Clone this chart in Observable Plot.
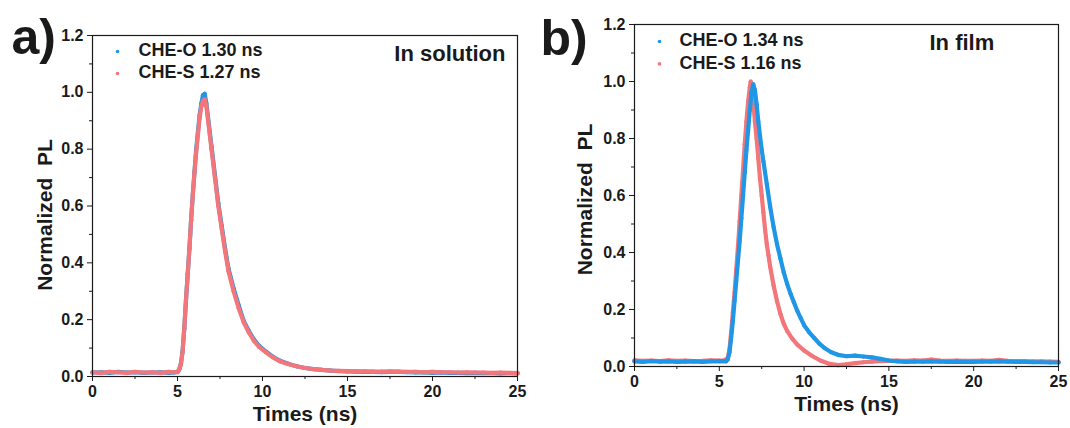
<!DOCTYPE html>
<html>
<head>
<meta charset="utf-8">
<script src="https://cdn.jsdelivr.net/npm/d3@7"></script>
<script src="https://cdn.jsdelivr.net/npm/@observablehq/plot@0.6"></script>
<style>
  html, body { margin: 0; padding: 0; background: #fff; }
  #wrap { display: flex; width: 1070px; height: 428px; }
  svg text { white-space: pre; }
</style>
</head>
<body>
<div id="wrap"></div>
<script>
// ---- tick labels ----
const xTicks = [0, 5, 10, 15, 20, 25];
const xMinor = [2.5, 7.5, 12.5, 17.5, 22.5];
const yTicks = [0, 0.2, 0.4, 0.6, 0.8, 1.0, 1.2];
const yMinor = [0.1, 0.3, 0.5, 0.7, 0.9, 1.1];

// ---- text ----
const xTitle = "Times (ns)";
const yTitle = "Normalized  PL";
const panelLabels = ["a)", "b)"];
const conditions = ["In solution", "In film"];
const legendA = ["CHE-O 1.30 ns", "CHE-S 1.27 ns"];
const legendB = ["CHE-O 1.34 ns", "CHE-S 1.16 ns"];

// ---- panel a (in solution) ----
const aTime = [0,0.5,1,1.5,2,2.5,3,3.5,4,4.5,4.8,
  5.0,5.1,5.2,5.3,5.4,5.5,5.6,5.7,5.8,5.9,6.0,6.1,6.2,6.3,6.4,6.5,6.6,6.7,6.8,6.9,7.0,
  7.2,7.4,7.6,7.8,8.0,
  8.3,8.6,8.9,9.2,9.5,9.8,
  10.2,10.6,11.0,
  11.5,12,12.5,13,13.5,14,14.5,15,15.5,16,16.5,17,17.5,18,18.5,19,19.5,20,20.5,21,21.5,22,22.5,23,23.5,24,24.5,25];
const aCheO = [0.014,0.015,0.013,0.016,0.014,0.015,0.013,0.014,0.015,0.013,0.014,
  0.016,0.025,0.045,0.09,0.17,0.27,0.36,0.45,0.55,0.64,0.72,0.80,0.86,0.92,0.96,0.99,0.995,0.96,0.91,0.86,0.81,
  0.71,0.61,0.53,0.45,0.38,
  0.31,0.25,0.195,0.16,0.13,0.108,
  0.088,0.07,0.056,
  0.045,0.036,0.03,0.026,0.023,0.021,0.019,0.018,0.017,0.016,0.016,0.015,0.016,0.016,0.015,0.014,0.014,0.013,0.014,0.013,0.013,0.012,0.013,0.012,0.012,0.011,0.012,0.011];
const aCheS = [0.015,0.013,0.016,0.015,0.013,0.016,0.014,0.015,0.013,0.016,0.015,
  0.015,0.024,0.043,0.088,0.17,0.27,0.36,0.45,0.55,0.64,0.72,0.79,0.85,0.91,0.95,0.97,0.975,0.95,0.90,0.85,0.80,
  0.70,0.60,0.52,0.44,0.37,
  0.30,0.24,0.19,0.155,0.125,0.104,
  0.085,0.068,0.054,
  0.044,0.036,0.03,0.026,0.023,0.021,0.02,0.019,0.018,0.018,0.017,0.017,0.018,0.017,0.016,0.016,0.015,0.016,0.015,0.015,0.014,0.015,0.014,0.014,0.013,0.014,0.013,0.012];

// ---- panel b (in film) ----
const bTimeO = [0,0.5,1,1.5,2,2.5,3,3.5,4,4.5,5,
  5.4,5.5,5.6,5.7,5.8,5.9,6.0,6.1,6.2,6.3,6.4,6.5,6.6,6.7,6.8,6.9,7.0,
  7.1,7.2,7.3,7.4,7.5,7.6,
  7.8,8.0,8.2,8.4,8.6,8.8,9.0,9.2,9.4,9.6,9.8,10.0,
  10.3,10.6,10.9,11.2,11.6,12.0,
  12.5,13,13.5,14,14.5,15,15.5,16,16.5,17,17.5,18,18.5,19,19.5,20,20.5,21,21.5,22,22.5,23,23.5,24,24.5,25];
const bCheO = [0.018,0.016,0.019,0.017,0.018,0.016,0.017,0.018,0.016,0.018,0.019,
  0.018,0.025,0.05,0.10,0.16,0.23,0.30,0.37,0.44,0.52,0.60,0.68,0.76,0.83,0.90,0.96,0.99,
  0.97,0.92,0.86,0.81,0.76,0.72,
  0.64,0.56,0.49,0.43,0.38,0.33,0.29,0.255,0.225,0.195,0.17,0.145,
  0.12,0.10,0.08,0.065,0.05,0.041,
  0.036,0.038,0.035,0.032,0.027,0.021,0.018,0.016,0.017,0.017,0.018,0.017,0.016,0.017,0.016,0.016,0.017,0.017,0.018,0.017,0.016,0.016,0.015,0.015,0.014,0.014];
const bTimeS = [0,0.5,1,1.5,2,2.5,3,3.5,4,4.5,5,
  5.3,5.5,5.6,5.7,5.8,5.9,6.0,6.1,6.2,6.3,6.4,6.5,6.6,6.7,6.8,6.85,6.9,7.0,
  7.1,7.2,7.3,7.4,7.5,7.6,7.7,7.8,7.9,8.0,
  8.2,8.4,8.6,8.8,9.0,9.3,9.6,10.0,10.5,11.0,11.5,12.0,
  12.5,13,13.5,14,14.5,15,15.5,16,16.5,17,17.5,18,18.5,19,19.5,20,20.5,21,21.5,22,22.5,23,23.5,24,24.5,25];
const bCheS = [0.022,0.02,0.021,0.019,0.022,0.02,0.021,0.019,0.02,0.022,0.021,
  0.022,0.03,0.06,0.12,0.19,0.26,0.34,0.42,0.51,0.60,0.69,0.78,0.86,0.93,0.98,1.0,0.98,0.93,
  0.86,0.80,0.73,0.66,0.60,0.54,0.48,0.43,0.39,0.35,
  0.285,0.23,0.185,0.15,0.125,0.098,0.077,0.056,0.036,0.02,0.009,0.005,
  0.008,0.012,0.015,0.017,0.019,0.02,0.021,0.02,0.022,0.021,0.024,0.021,0.02,0.021,0.02,0.02,0.021,0.02,0.023,0.02,0.019,0.019,0.018,0.018,0.017,0.016];

const blue = "#1f97e6";
const red = "#f2767a";
const ink = "#1a1a1a";

const rows = (ts, vs) => ts.map((t, i) => ({t, v: vs[i]}));

function series(data, color) {
  return [
    Plot.line(data, {x: "t", y: "v", stroke: color, strokeWidth: 4.2}),
    Plot.dot(data, {x: "t", y: "v", r: 2.1, fill: color, stroke: "none"})
  ];
}

function panel(o) {
  const fs = {fontFamily: "'Liberation Sans', Arial, sans-serif", fontWeight: "bold", lineAnchor: "middle", fill: ink};
  return Plot.plot({
    width: 535, height: 428,
    marginLeft: o.ml, marginRight: o.mr, marginTop: o.mt, marginBottom: o.mb,
    x: {domain: [0, 25]},
    y: {domain: [0, 1.2]},
    style: {fontFamily: "'Liberation Sans', Arial, sans-serif", fontWeight: "bold", fontSize: "16px", color: ink, background: "white", overflow: "visible"},
    marks: [
      ...o.layers,
      Plot.frame({stroke: ink, strokeWidth: 1.2}),
      Plot.axisX(xTicks, {tickSize: 5, tickPadding: 4, label: null, fontSize: 16}),
      Plot.axisX(xMinor, {tickSize: 3, tickFormat: () => "", label: null}),
      Plot.axisY(yTicks, {tickSize: 5, tickPadding: 4, tickFormat: d3.format(".1f"), label: null, fontSize: 16}),
      Plot.axisY(yMinor, {tickSize: 3, tickFormat: () => "", label: null}),
      // axis titles
      Plot.text([xTitle], {text: d => d, frameAnchor: "bottom", textAnchor: "middle", dy: o.xTitleDy, fontSize: 21, ...fs}),
      Plot.text([yTitle], {text: d => d, frameAnchor: "left", textAnchor: "middle", dx: o.yTitleDx, dy: o.yTitleDy, rotate: -90, fontSize: 21, ...fs}),
      // panel label
      Plot.text([o.tag], {text: d => d, frameAnchor: "top-left", textAnchor: "start", dx: o.tagDx, dy: o.tagDy, fontSize: 50, ...fs}),
      // condition
      Plot.text([o.cond], {text: d => d, frameAnchor: o.condAnchor, textAnchor: o.condTextAnchor, dx: o.condDx, dy: o.condDy, fontSize: 22, ...fs}),
      // legend
      Plot.dot([0], {frameAnchor: "top-left", dx: o.legDotDx, dy: o.legDy[0] + 1, r: 1.8, fill: blue}),
      Plot.dot([0], {frameAnchor: "top-left", dx: o.legDotDx, dy: o.legDy[1] + 1, r: 1.8, fill: red}),
      Plot.text([o.legend[0]], {text: d => d, frameAnchor: "top-left", textAnchor: "start", dx: o.legTextDx, dy: o.legDy[0], fontSize: 18, ...fs}),
      Plot.text([o.legend[1]], {text: d => d, frameAnchor: "top-left", textAnchor: "start", dx: o.legTextDx, dy: o.legDy[1], fontSize: 18, ...fs})
    ]
  });
}

const wrap = document.getElementById("wrap");

wrap.append(panel({
  ml: 92, mr: 18, mt: 35, mb: 52,
  layers: [...series(rows(aTime, aCheO), blue), ...series(rows(aTime, aCheS), red)],
  xTitleDy: 37.6, yTitleDx: -47, yTitleDy: 9,
  tag: panelLabels[0], tagDx: -81, tagDy: 2.6,
  cond: conditions[0], condAnchor: "top-right", condTextAnchor: "end", condDx: -12, condDy: 18.3,
  legend: legendA, legDotDx: 25, legTextDx: 46, legDy: [15, 37]
}));

wrap.append(panel({
  ml: 99, mr: 12, mt: 24, mb: 62,
  layers: [...series(rows(bTimeS, bCheS), red), ...series(rows(bTimeO, bCheO), blue)],
  xTitleDy: 37.6, yTitleDx: -49, yTitleDy: 4,
  tag: panelLabels[1], tagDx: -94, tagDy: 14.6,
  cond: conditions[1], condAnchor: "top-left", condTextAnchor: "start", condDx: 295, condDy: 18.3,
  legend: legendB, legDotDx: 25, legTextDx: 45, legDy: [16, 38.4]
}));
</script>
</body>
</html>
